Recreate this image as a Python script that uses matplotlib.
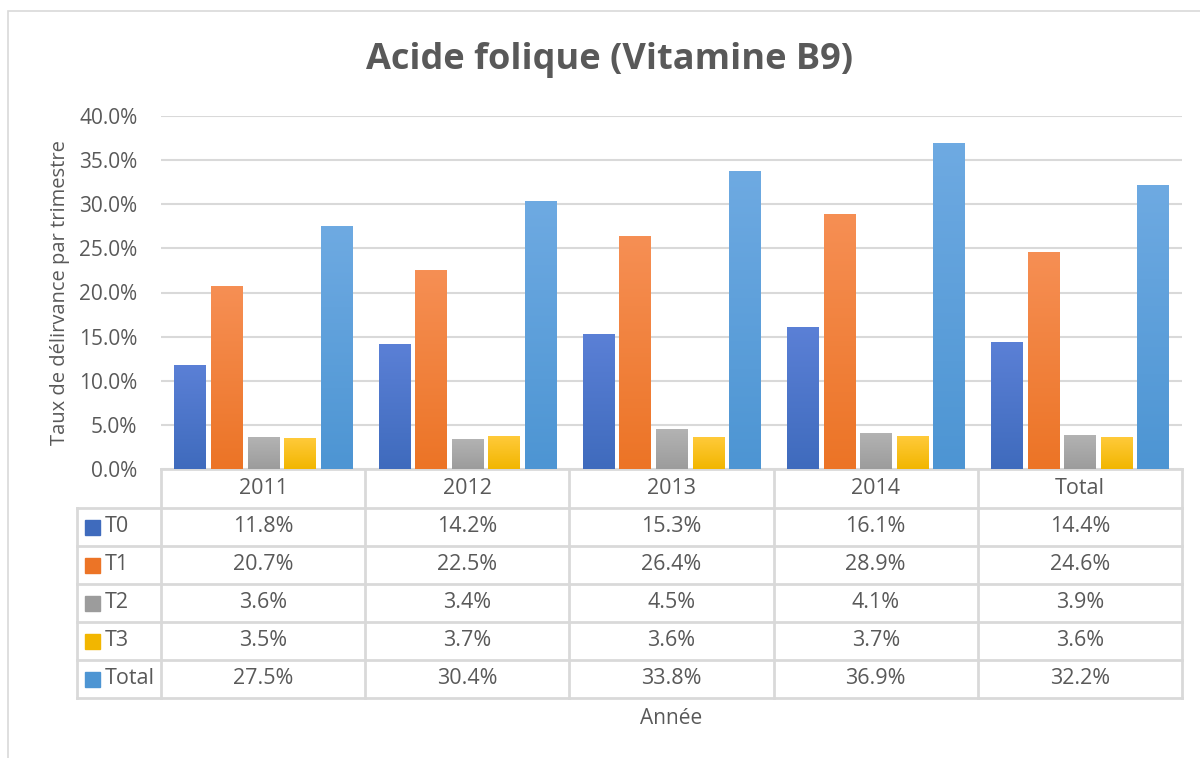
import numpy as np
import matplotlib.pyplot as plt
from matplotlib.colors import LinearSegmentedColormap
from matplotlib.patches import Rectangle
import matplotlib.transforms as mtransforms

plt.rcParams['font.family'] = ['Open Sans', 'DejaVu Sans']

# data
years = ['2011', '2012', '2013', '2014', 'Total']
series = ['T0', 'T1', 'T2', 'T3', 'Total']
t0 = [11.8, 14.2, 15.3, 16.1, 14.4]
t1 = [20.7, 22.5, 26.4, 28.9, 24.6]
t2 = [3.6, 3.4, 4.5, 4.1, 3.9]
t3 = [3.5, 3.7, 3.6, 3.7, 3.6]
total = [27.5, 30.4, 33.8, 36.9, 32.2]
values = [t0, t1, t2, t3, total]

# gradient colours (bottom, top)
grads = [('#3f6bbd', '#5b80d6'),
         ('#ec7426', '#f68f54'),
         ('#9c9c9c', '#b3b3b3'),
         ('#f2b600', '#ffca3a'),
         ('#4d95d3', '#6eaae2')]
txt = '#595959'
grid = '#d9d9d9'
fs = 15.5

W, H = 1200, 758
fig = plt.figure(figsize=(12, 7.58), dpi=100)
ax = fig.add_axes([161 / W, 1 - 469 / H, (1182 - 161) / W, (469 - 116) / H])

# outer chart border
fig.patches.append(Rectangle((8 / W, -0.01), 1.0, 1 - 11 / H + 0.01, transform=fig.transFigure,
                             fill=False, edgecolor=grid, lw=1.2))

x = np.arange(len(years))
pitch = 0.179
bw = 0.152
for i, vals in enumerate(values):
    cmap = LinearSegmentedColormap.from_list('g%d' % i, grads[i])
    xs = x + (i - 2) * pitch
    bars = ax.bar(xs, np.array(vals) / 100, width=bw, color=grads[i][0], zorder=2)
    for b in bars:
        x0, y0 = b.get_x(), b.get_y()
        w, h = b.get_width(), b.get_height()
        im = ax.imshow(np.linspace(0, 1, 100).reshape(-1, 1), cmap=cmap, origin='lower',
                       extent=[x0, x0 + w, y0, y0 + h], aspect='auto', zorder=3)
        im.set_clip_path(b)

ax.set_xlim(-0.5, len(years) - 0.5)
ax.set_ylim(0, 0.40)
ax.set_yticks(np.arange(0, 0.401, 0.05))
ax.set_yticklabels(['%.1f%%' % (v * 100) for v in np.arange(0, 0.401, 0.05)])
ax.tick_params(axis='y', length=0, labelsize=15, colors=txt, pad=17)
ax.set_xticks([])
ax.yaxis.grid(True, color=grid, lw=1.5, zorder=0)
for s in ax.spines.values():
    s.set_visible(False)
ax.set_ylabel('Taux de délirvance par trimestre', fontsize=14.5, color=txt)
ax.yaxis.set_label_coords((70 - 161) / (1182 - 161), 0.5)

fig.text(610 / W, 1 - 60 / H, 'Acide folique (Vitamine B9)', ha='center', va='center',
         fontsize=26, fontweight='bold', color=txt)

# data table below the axes
tr = mtransforms.blended_transform_factory(ax.transData, ax.transAxes)
upx = (1182 - 161) / len(years)
def yax(py):
    return (469 - py) / (469 - 116)
left = -0.5 - (161 - 77) / upx
rows_y = [469, 508, 546, 584, 622, 660, 698]
lkw = dict(color=grid, lw=2, transform=tr, clip_on=False, zorder=1)
ax.plot([-0.5, len(years) - 0.5], [yax(469)] * 2, **lkw)
for py in rows_y[1:]:
    ax.plot([left, len(years) - 0.5], [yax(py)] * 2, **lkw)
for k in range(len(years) + 1):
    ax.plot([k - 0.5] * 2, [yax(469), yax(698)], **lkw)
ax.plot([left] * 2, [yax(508), yax(698)], **lkw)

for j, yr in enumerate(years):
    ax.text(j, yax((469 + 508) / 2), yr, ha='center', va='center', fontsize=fs, color=txt,
            transform=tr)
for i, name in enumerate(series):
    yc = (rows_y[i + 1] + rows_y[i + 2]) / 2
    ax.add_patch(Rectangle((-0.5 - (161 - 85) / upx, yax(yc + 7.5)), 15 / upx, 15 / (469 - 116),
                           transform=tr, clip_on=False, color=grads[i][0]))
    ax.text(-0.5 - (161 - 105) / upx, yax(yc), name, ha='left', va='center', fontsize=fs,
            color=txt, transform=tr)
    for j, v in enumerate(values[i]):
        ax.text(j, yax(yc), '%.1f%%' % v, ha='center', va='center', fontsize=fs, color=txt,
                transform=tr)

fig.text(671 / W, 1 - 718 / H, 'Année', ha='center', va='center', fontsize=15, color=txt)

fig.savefig('out.png', dpi=100)
